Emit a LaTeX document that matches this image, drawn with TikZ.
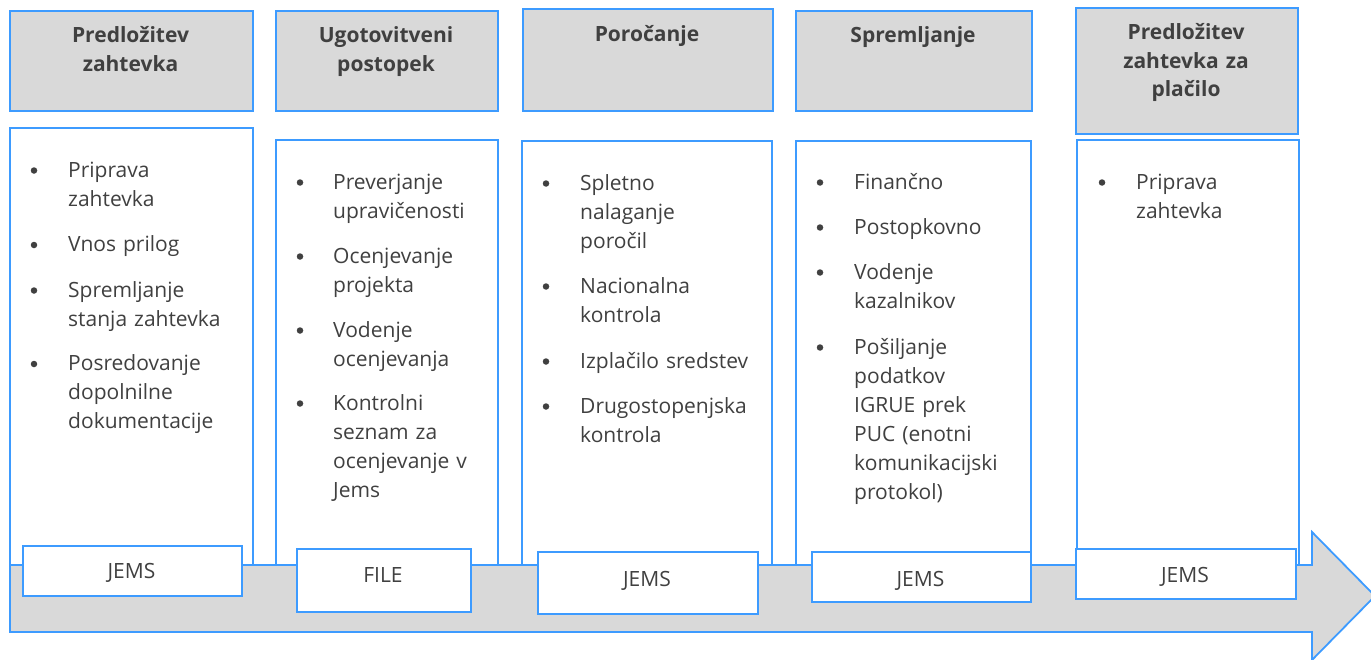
\documentclass[tikz,border=0pt]{standalone}
\usepackage{fontspec}
\setmainfont{Open Sans}
\definecolor{bblue}{RGB}{61,155,255}
\definecolor{bgray}{RGB}{217,217,217}
\definecolor{tgray}{RGB}{64,64,64}
\begin{document}
\begin{tikzpicture}[x=1bp,y=-1bp,
  box/.style={draw=bblue, line width=1.8bp, inner sep=0, anchor=north west},
  hdr/.style={box, fill=bgray},
  cnt/.style={box, fill=white},
  sysbox/.style={box, fill=white},
  htext/.style={anchor=base, align=center, text width=220bp, inner sep=0, text=tgray,
    font=\fontsize{21bp}{28.5bp}\selectfont\bfseries},
  itm/.style={anchor=base west, align=left, text width=170bp, inner sep=0, text=tgray,
    font=\fontsize{21bp}{29bp}\selectfont},
  systext/.style={anchor=base, inner sep=0, text=tgray, font=\fontsize{21bp}{29bp}\selectfont},
  dot/.style={circle, fill=tgray, minimum size=6.5bp, inner sep=0}
]
\useasboundingbox (0,0) rectangle (1371,660);
% header boxes
\node[hdr, minimum width=243bp, minimum height=100bp] (h1) at (9,10) {};
\node[hdr, minimum width=222bp, minimum height=100bp] (h2) at (275,10) {};
\node[hdr, minimum width=250bp, minimum height=102bp] (h3) at (522,8) {};
\node[hdr, minimum width=236bp, minimum height=100bp] (h4) at (795,10) {};
\node[hdr, minimum width=222bp, minimum height=126bp] (h5) at (1075,7) {};
% content boxes
\node[cnt, minimum width=243bp, minimum height=438bp] (c1) at (9,127) {};
\node[cnt, minimum width=222bp, minimum height=426bp] (c2) at (275,139) {};
\node[cnt, minimum width=250bp, minimum height=425bp] (c3) at (521,140) {};
\node[cnt, minimum width=235bp, minimum height=425bp] (c4) at (795,140) {};
\node[cnt, minimum width=222bp, minimum height=426bp] (c5) at (1076,139) {};
% big arrow
\draw[line width=1.8bp, draw=bblue, fill=bgray, line join=miter]
  (10,565) -- (1312,565) -- (1312,532) -- (1375,596) -- (1312,660) -- (1312,632) -- (10,632) -- cycle;
% system boxes
\node[sysbox, minimum width=219bp, minimum height=50bp] (s1) at (22,545) {};
\node[sysbox, minimum width=174bp, minimum height=63bp] (s2) at (296,548) {};
\node[sysbox, minimum width=220bp, minimum height=62bp] (s3) at (537,551) {};
\node[sysbox, minimum width=219bp, minimum height=50bp] (s4) at (811,551) {};
\node[sysbox, minimum width=220bp, minimum height=50bp] (s5) at (1075,548) {};
\node[systext] (t1) at (131.5,578) {JEMS};
\node[systext] (t2) at (383,582) {FILE};
\node[systext] (t3) at (647,586) {JEMS};
\node[systext] (t4) at (920.5,586) {JEMS};
\node[systext] (t5) at (1185,582) {JEMS};
% header texts
\node[htext] (ht1) at (130.5,43) {Predložitev\\zahtevka};
\node[htext] (ht2) at (386,43) {Ugotovitveni\\postopek};
\node[htext] (ht3) at (647,42) {Poročanje};
\node[htext] (ht4) at (913,43) {Spremljanje};
\node[htext] (ht5) at (1186,40) {Predložitev\\zahtevka za\\plačilo};
% column 1
\node[dot] (b11) at (34,170.5) {};
\node[itm] (i11) at (68,177) {Priprava\\zahtevka};
\node[dot] (b12) at (34,245) {};
\node[itm] (i12) at (68,251.5) {Vnos prilog};
\node[dot] (b13) at (34,290.5) {};
\node[itm] (i13) at (68,297) {Spremljanje\\stanja zahtevka};
\node[dot] (b14) at (34,364) {};
\node[itm] (i14) at (68,370.5) {Posredovanje\\dopolnilne\\dokumentacije};
% column 2
\node[dot] (b21) at (300,182.5) {};
\node[itm] (i21) at (333,189) {Preverjanje\\upravičenosti};
\node[dot] (b22) at (300,256.5) {};
\node[itm] (i22) at (333,263) {Ocenjevanje\\projekta};
\node[dot] (b23) at (300,330.5) {};
\node[itm] (i23) at (333,337) {Vodenje\\ocenjevanja};
\node[dot] (b24) at (300,403.5) {};
\node[itm] (i24) at (333,410) {Kontrolni\\seznam za\\ocenjevanje v\\Jems};
% column 3
\node[dot] (b31) at (546,183.5) {};
\node[itm] (i31) at (580,190) {Spletno\\nalaganje\\poročil};
\node[dot] (b32) at (546,286.5) {};
\node[itm] (i32) at (580,293) {Nacionalna\\kontrola};
\node[dot] (b33) at (546,361.5) {};
\node[itm] (i33) at (580,368) {Izplačilo sredstev};
\node[dot] (b34) at (546,406.5) {};
\node[itm] (i34) at (580,413) {Drugostopenjska\\kontrola};
% column 4
\node[dot] (b41) at (820,182.5) {};
\node[itm] (i41) at (854,189) {Finančno};
\node[dot] (b42) at (820,227.5) {};
\node[itm] (i42) at (854,234) {Postopkovno};
\node[dot] (b43) at (820,272.5) {};
\node[itm] (i43) at (854,279) {Vodenje\\kazalnikov};
\node[dot] (b44) at (820,347.5) {};
\node[itm] (i44) at (854,354) {Pošiljanje\\podatkov\\IGRUE prek\\PUC (enotni\\komunikacijski\\protokol)};
% column 5
\node[dot] (b51) at (1102,182.5) {};
\node[itm] (i51) at (1136,189) {Priprava\\zahtevka};
\end{tikzpicture}
\end{document}
